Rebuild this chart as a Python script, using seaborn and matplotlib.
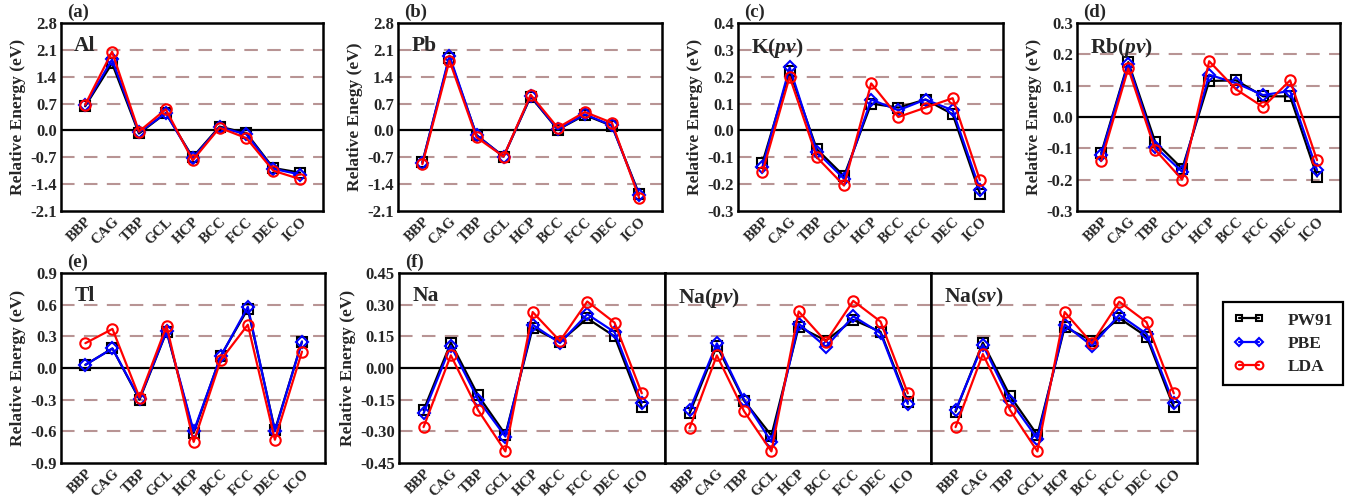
import numpy as np
import pandas as pd
import matplotlib
matplotlib.use("Agg")
import matplotlib.pyplot as plt
import seaborn as sns

sns.set_theme(style="white")
plt.rcParams['font.family'] = ['Liberation Serif', 'DejaVu Serif']
plt.rcParams['font.weight'] = 'bold'
plt.rcParams['mathtext.fontset'] = 'custom'
plt.rcParams['mathtext.it'] = 'Liberation Serif:bold:italic'
plt.rcParams['mathtext.rm'] = 'Liberation Serif:bold'

categories = ["BBP", "CAG", "TBP", "GCL", "HCP", "BCC", "FCC", "DEC", "ICO"]
series_names = ["PW91", "PBE", "LDA"]

# Al
al_pw91 = [0.63, 1.75, -0.08, 0.45, -0.70, 0.10, -0.07, -0.98, -1.10]
al_pbe = [0.65, 1.85, -0.05, 0.45, -0.72, 0.08, -0.10, -1.00, -1.15]
al_lda = [0.67, 2.05, -0.03, 0.55, -0.78, 0.07, -0.20, -1.05, -1.27]
# Pb
pb_pw91 = [-0.83, 1.90, -0.12, -0.68, 0.88, 0.02, 0.40, 0.12, -1.65]
pb_pbe = [-0.85, 1.95, -0.13, -0.68, 0.90, 0.03, 0.42, 0.13, -1.68]
pb_lda = [-0.88, 1.82, -0.18, -0.68, 0.93, 0.07, 0.48, 0.20, -1.75]
# K(pv)
k_pw91 = [-0.120, 0.220, -0.070, -0.170, 0.100, 0.085, 0.115, 0.060, -0.235]
k_pbe = [-0.135, 0.235, -0.080, -0.180, 0.115, 0.075, 0.115, 0.075, -0.220]
k_lda = [-0.155, 0.200, -0.100, -0.205, 0.175, 0.050, 0.085, 0.120, -0.185]
# Rb(pv)
rb_pw91 = [-0.115, 0.175, -0.080, -0.165, 0.115, 0.117, 0.066, 0.066, -0.190]
rb_pbe = [-0.120, 0.170, -0.095, -0.175, 0.135, 0.108, 0.070, 0.083, -0.170]
rb_lda = [-0.140, 0.155, -0.105, -0.200, 0.178, 0.088, 0.032, 0.117, -0.138]
# Tl
tl_pw91 = [0.03, 0.185, -0.30, 0.345, -0.615, 0.115, 0.56, -0.59, 0.25]
tl_pbe = [0.03, 0.185, -0.29, 0.350, -0.600, 0.110, 0.58, -0.60, 0.25]
tl_lda = [0.235, 0.370, -0.28, 0.400, -0.700, 0.075, 0.41, -0.68, 0.155]
# Na
na_pw91 = [-0.200, 0.120, -0.130, -0.315, 0.190, 0.125, 0.235, 0.150, -0.185]
na_pbe = [-0.215, 0.105, -0.150, -0.325, 0.205, 0.118, 0.255, 0.170, -0.165]
na_lda = [-0.280, 0.060, -0.200, -0.395, 0.265, 0.128, 0.315, 0.215, -0.120]
# Na(pv)
napv_pw91 = [-0.215, 0.105, -0.155, -0.320, 0.195, 0.130, 0.228, 0.172, -0.160]
napv_pbe = [-0.200, 0.117, -0.150, -0.350, 0.210, 0.100, 0.245, 0.165, -0.170]
napv_lda = [-0.285, 0.060, -0.205, -0.395, 0.268, 0.125, 0.318, 0.220, -0.120]
# Na(sv)
nasv_pw91 = [-0.207, 0.120, -0.133, -0.318, 0.193, 0.130, 0.236, 0.149, -0.187]
nasv_pbe = [-0.200, 0.110, -0.155, -0.335, 0.206, 0.105, 0.252, 0.162, -0.168]
nasv_lda = [-0.280, 0.066, -0.200, -0.395, 0.265, 0.117, 0.314, 0.217, -0.120]

yticks_top = [-2.1, -1.4, -0.7, 0.0, 0.7, 1.4, 2.1, 2.8]
yticks_k = [-0.3, -0.2, -0.1, 0.0, 0.1, 0.2, 0.3, 0.4]
yticks_rb = [-0.3, -0.2, -0.1, 0.0, 0.1, 0.2, 0.3]
yticks_tl = [-0.9, -0.6, -0.3, 0.0, 0.3, 0.6, 0.9]
yticks_na = [-0.45, -0.30, -0.15, 0.00, 0.15, 0.30, 0.45]

W, H = 1362, 497
fig = plt.figure(figsize=(W / 100, H / 100), dpi=100)


def px_axes(x0, y0, x1, y1):
    return fig.add_axes([x0 / W, 1 - y1 / H, (x1 - x0) / W, (y1 - y0) / H])


styles = [
    dict(color="black", marker="s"),
    dict(color="#0000ff", marker="D"),
    dict(color="#ff0000", marker="o"),
]
msizes = [6.5, 6.0, 7.5]

grid_color = "#b89494"


def draw_panel(ax, series, yticks, fmt, name, ylabel=None, letter=None, show_yticks=True):
    x = np.arange(len(categories))
    for i, (vals, st) in enumerate(zip(series, styles)):
        sns.lineplot(x=x, y=vals, ax=ax, color=st["color"], marker=st["marker"],
                     markersize=msizes[i], markerfacecolor="none",
                     markeredgecolor=st["color"], markeredgewidth=1.5,
                     linewidth=1.6, label=series_names[i], legend=False,
                     zorder=3 + i)
    ax.set_ylim(yticks[0], yticks[-1])
    ax.set_xlim(-0.9, len(categories) - 0.15)
    for t in yticks[1:-1]:
        if abs(t) < 1e-9:
            ax.axhline(0, color="black", lw=1.6, zorder=2)
        else:
            ax.axhline(t, color=grid_color, lw=1.5, ls=(0, (6.5, 4.5)), zorder=1)
    ax.set_yticks(yticks)
    if show_yticks:
        ax.set_yticklabels([fmt.format(t) for t in yticks], fontsize=12, fontweight="bold")
    else:
        ax.set_yticklabels([])
    ax.set_xticks(x)
    ax.set_xticklabels(categories, rotation=45, ha="right", rotation_mode="anchor",
                       fontsize=10.5, fontweight="bold")
    ax.tick_params(axis="x", direction="in", length=5, width=2.2, color="black", pad=3)
    ax.tick_params(axis="y", length=0, pad=3)
    for s in ax.spines.values():
        s.set_color("black")
        s.set_linewidth(1.8)
    ax.set_xlabel("")
    if ylabel:
        ax.set_ylabel(ylabel, fontsize=12.5, fontweight="bold", labelpad=3)
    ax.text(0.05, 0.93, name, transform=ax.transAxes, fontsize=15.5, fontweight="bold",
            va="top", ha="left")
    if letter:
        ax.text(0.022, 1.01, letter, transform=ax.transAxes, fontsize=13.5,
                fontweight="bold", va="bottom", ha="left")


ax_a = px_axes(61, 23, 323, 211)
draw_panel(ax_a, [al_pw91, al_pbe, al_lda], yticks_top, "{:.1f}", "Al",
           "Relative Energy (eV)", "(a)")
ax_b = px_axes(398, 23, 662, 211)
draw_panel(ax_b, [pb_pw91, pb_pbe, pb_lda], yticks_top, "{:.1f}", "Pb",
           "Relative Enegy (eV)", "(b)")
ax_c = px_axes(738, 23, 1003, 211)
draw_panel(ax_c, [k_pw91, k_pbe, k_lda], yticks_k, "{:.1f}", r"K($pv$)",
           "Relative Energy (eV)", "(c)")
ax_d = px_axes(1077, 23, 1340, 211)
draw_panel(ax_d, [rb_pw91, rb_pbe, rb_lda], yticks_rb, "{:.1f}", r"Rb($pv$)",
           "Relative Energy (eV)", "(d)")

ax_e = px_axes(61, 273, 325, 463)
draw_panel(ax_e, [tl_pw91, tl_pbe, tl_lda], yticks_tl, "{:.1f}", "Tl",
           "Relative Energy (eV)", "(e)")
ax_f1 = px_axes(399, 273, 665, 463)
draw_panel(ax_f1, [na_pw91, na_pbe, na_lda], yticks_na, "{:.2f}", "Na",
           "Relative Energy (eV)", "(f)")
ax_f2 = px_axes(665, 273, 931, 463)
draw_panel(ax_f2, [napv_pw91, napv_pbe, napv_lda], yticks_na, "{:.2f}", r"Na($pv$)",
           None, None, show_yticks=False)
ax_f3 = px_axes(931, 273, 1197, 463)
draw_panel(ax_f3, [nasv_pw91, nasv_pbe, nasv_lda], yticks_na, "{:.2f}", r"Na($sv$)",
           None, None, show_yticks=False)

handles, labels = ax_f3.get_legend_handles_labels()
leg = fig.legend(handles, labels, loc="upper left",
                 bbox_to_anchor=(1223 / W, 1 - 302 / H), borderaxespad=0,
                 numpoints=2, markerscale=0.75, handlelength=1.8, handletextpad=1.3,
                 labelspacing=0.4, borderpad=0.6, fancybox=False,
                 prop=dict(family="Liberation Serif", weight="bold", size=12.5))
leg.get_frame().set_edgecolor("black")
leg.get_frame().set_linewidth(1.6)
leg.get_frame().set_alpha(1)

fig.savefig("out.png", dpi=100)
